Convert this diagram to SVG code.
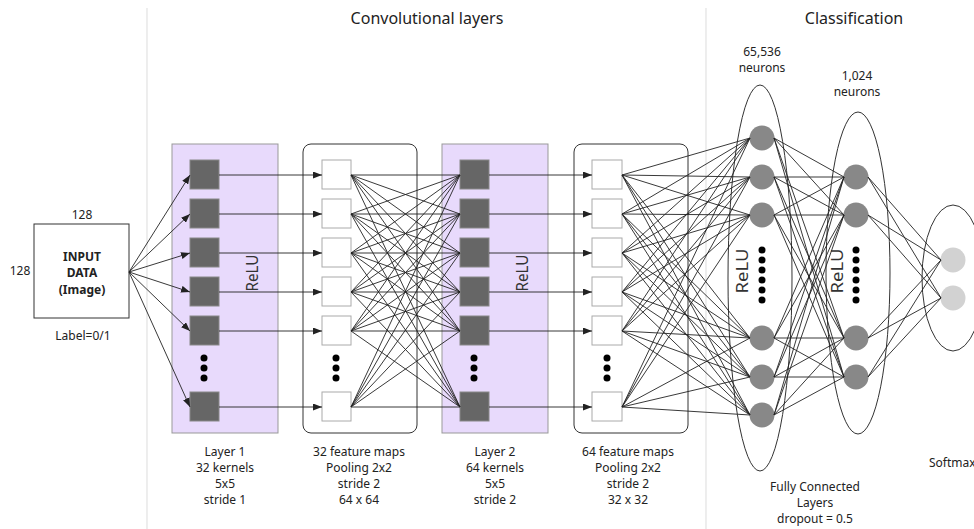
<svg xmlns="http://www.w3.org/2000/svg" width="974" height="529" viewBox="0 0 974 529">
<style>
text{font-family:"Noto Sans","DejaVu Sans",sans-serif;fill:#222;}
.lbl{font-size:12px;text-anchor:middle;}
.ttl{font-size:16px;text-anchor:middle;}
.relu{font-size:17px;text-anchor:middle;fill:#333;}
.div{stroke:#e2e2e2;stroke-width:1.2;fill:none;}
.layer{fill:#e8dafc;stroke:#999;stroke-width:1;}
.pool{fill:#fff;stroke:#333;stroke-width:1;}
.k{fill:#666;stroke:#888;stroke-width:1;}
.fm{fill:#fff;stroke:#aaa;stroke-width:1;}
.dot{fill:#000;}
.n{fill:#888;}
.sm{fill:#d2d2d2;}
.ell{fill:none;stroke:#333;stroke-width:1;}
.c{stroke:#222;stroke-width:0.9;fill:none;}
.ar{stroke:#222;stroke-width:0.9;fill:none;marker-end:url(#ah);}
</style>
<defs>
<marker id="ah" markerUnits="userSpaceOnUse" markerWidth="9" markerHeight="7" refX="9" refY="3.5" orient="auto">
<path d="M0,0 L9,3.5 L0,7 z" fill="#222"/>
</marker>
</defs>
<rect width="974" height="529" fill="#fff"/>
<line class="div" x1="147" y1="8" x2="147" y2="529"/>
<line class="div" x1="706" y1="8" x2="706" y2="529"/>
<text class="ttl" x="427" y="24">Convolutional layers</text>
<text class="ttl" x="854" y="24">Classification</text>

<g id="input">
<rect x="34" y="224" width="95" height="94" fill="#fff" stroke="#333"/>
<text class="lbl" x="82" y="219">128</text>
<text class="lbl" x="20" y="275">128</text>
<text class="lbl" x="82" y="261" font-weight="bold">INPUT</text>
<text class="lbl" x="82" y="277" font-weight="bold">DATA</text>
<text class="lbl" x="82" y="294" font-weight="bold">(Image)</text>
<text class="lbl" x="83" y="340">Label=0/1</text>
</g>

<g id="layer1">
<rect class="layer" x="172" y="144" width="106" height="289"/>
<rect class="k" x="190" y="160" width="29" height="29"/>
<rect class="k" x="190" y="199" width="29" height="29"/>
<rect class="k" x="190" y="238" width="29" height="29"/>
<rect class="k" x="190" y="277" width="29" height="29"/>
<rect class="k" x="190" y="316" width="29" height="29"/>
<rect class="k" x="190" y="392" width="29" height="29"/>
<circle class="dot" cx="204" cy="358" r="3.5"/>
<circle class="dot" cx="204" cy="368" r="3.5"/>
<circle class="dot" cx="204" cy="378" r="3.5"/>
<text class="relu" transform="translate(258,273) rotate(-90)" textLength="37" lengthAdjust="spacingAndGlyphs">ReLU</text>
<text class="lbl" x="225" y="456">Layer 1</text>
<text class="lbl" x="225" y="472">32 kernels</text>
<text class="lbl" x="225" y="488">5x5</text>
<text class="lbl" x="225" y="504">stride 1</text>
</g>

<g id="pool1">
<rect class="pool" x="303" y="144" width="114" height="289" rx="8"/>
<rect class="fm" x="322" y="160" width="29" height="29"/>
<rect class="fm" x="322" y="199" width="29" height="29"/>
<rect class="fm" x="322" y="238" width="29" height="29"/>
<rect class="fm" x="322" y="277" width="29" height="29"/>
<rect class="fm" x="322" y="316" width="29" height="29"/>
<rect class="fm" x="322" y="392" width="29" height="29"/>
<circle class="dot" cx="336" cy="358" r="3.5"/>
<circle class="dot" cx="336" cy="368" r="3.5"/>
<circle class="dot" cx="336" cy="378" r="3.5"/>
<text class="lbl" x="359" y="456">32 feature maps</text>
<text class="lbl" x="359" y="472">Pooling 2x2</text>
<text class="lbl" x="359" y="488">stride 2</text>
<text class="lbl" x="359" y="504">64 x 64</text>
</g>

<g id="layer2">
<rect class="layer" x="442" y="144" width="106" height="289"/>
<rect class="k" x="460" y="160" width="29" height="29"/>
<rect class="k" x="460" y="199" width="29" height="29"/>
<rect class="k" x="460" y="238" width="29" height="29"/>
<rect class="k" x="460" y="277" width="29" height="29"/>
<rect class="k" x="460" y="316" width="29" height="29"/>
<rect class="k" x="460" y="392" width="29" height="29"/>
<circle class="dot" cx="474" cy="358" r="3.5"/>
<circle class="dot" cx="474" cy="368" r="3.5"/>
<circle class="dot" cx="474" cy="378" r="3.5"/>
<text class="relu" transform="translate(528,273) rotate(-90)" textLength="37" lengthAdjust="spacingAndGlyphs">ReLU</text>
<text class="lbl" x="495" y="456">Layer 2</text>
<text class="lbl" x="495" y="472">64 kernels</text>
<text class="lbl" x="495" y="488">5x5</text>
<text class="lbl" x="495" y="504">stride 2</text>
</g>

<g id="pool2">
<rect class="pool" x="574" y="144" width="114" height="289" rx="8"/>
<rect class="fm" x="592" y="160" width="30" height="29"/>
<rect class="fm" x="592" y="199" width="30" height="29"/>
<rect class="fm" x="592" y="238" width="30" height="29"/>
<rect class="fm" x="592" y="277" width="30" height="29"/>
<rect class="fm" x="592" y="316" width="30" height="29"/>
<rect class="fm" x="592" y="392" width="30" height="29"/>
<circle class="dot" cx="607" cy="358" r="3.5"/>
<circle class="dot" cx="607" cy="368" r="3.5"/>
<circle class="dot" cx="607" cy="378" r="3.5"/>
<text class="lbl" x="628" y="456">64 feature maps</text>
<text class="lbl" x="628" y="472">Pooling 2x2</text>
<text class="lbl" x="628" y="488">stride 2</text>
<text class="lbl" x="628" y="504">32 x 32</text>
</g>

<g id="fc1">
<ellipse class="ell" cx="760" cy="278" rx="32" ry="193"/>
<circle class="n" cx="762" cy="138" r="12.5"/>
<circle class="n" cx="762" cy="177" r="12.5"/>
<circle class="n" cx="762" cy="215" r="12.5"/>
<circle class="n" cx="762" cy="338" r="12.5"/>
<circle class="n" cx="762" cy="377" r="12.5"/>
<circle class="n" cx="762" cy="415" r="12.5"/>
<circle class="dot" cx="762" cy="250" r="3.5"/>
<circle class="dot" cx="762" cy="260" r="3.5"/>
<circle class="dot" cx="762" cy="270" r="3.5"/>
<circle class="dot" cx="762" cy="280" r="3.5"/>
<circle class="dot" cx="762" cy="290" r="3.5"/>
<circle class="dot" cx="762" cy="300" r="3.5"/>
<text class="relu" transform="translate(748,271) rotate(-90)" textLength="45" lengthAdjust="spacingAndGlyphs">ReLU</text>
<text class="lbl" x="762" y="56">65,536</text>
<text class="lbl" x="762" y="72">neurons</text>
</g>

<g id="fc2">
<ellipse class="ell" cx="858" cy="273" rx="32" ry="161"/>
<circle class="n" cx="856" cy="177" r="12.5"/>
<circle class="n" cx="856" cy="215" r="12.5"/>
<circle class="n" cx="856" cy="338" r="12.5"/>
<circle class="n" cx="856" cy="377" r="12.5"/>
<circle class="dot" cx="856" cy="250" r="3.5"/>
<circle class="dot" cx="856" cy="260" r="3.5"/>
<circle class="dot" cx="856" cy="270" r="3.5"/>
<circle class="dot" cx="856" cy="280" r="3.5"/>
<circle class="dot" cx="856" cy="290" r="3.5"/>
<circle class="dot" cx="856" cy="300" r="3.5"/>
<text class="relu" transform="translate(843,271) rotate(-90)" textLength="45" lengthAdjust="spacingAndGlyphs">ReLU</text>
<text class="lbl" x="857" y="80">1,024</text>
<text class="lbl" x="857" y="96">neurons</text>
</g>

<g id="softmax">
<ellipse class="ell" cx="953" cy="278" rx="31" ry="73"/>
<circle class="sm" cx="953" cy="260" r="12.5"/>
<circle class="sm" cx="953" cy="298" r="12.5"/>
<text x="929" y="467" font-size="12">Softmax</text>
</g>

<g id="fc-label">
<text class="lbl" x="815" y="491">Fully Connected</text>
<text class="lbl" x="815" y="507">Layers</text>
<text class="lbl" x="815" y="523">dropout = 0.5</text>
</g>

<g id="connectors">
<path class="ar" d="M129 272L190 175"/>
<path class="ar" d="M129 272L190 214"/>
<path class="ar" d="M129 272L190 253"/>
<path class="ar" d="M129 272L190 292"/>
<path class="ar" d="M129 272L190 331"/>
<path class="ar" d="M129 272L190 407"/>
<path class="ar" d="M219 175H322"/>
<path class="ar" d="M219 214H322"/>
<path class="ar" d="M219 253H322"/>
<path class="ar" d="M219 292H322"/>
<path class="ar" d="M219 331H322"/>
<path class="ar" d="M219 407H322"/>
<path class="ar" d="M489 175H592"/>
<path class="ar" d="M489 214H592"/>
<path class="ar" d="M489 253H592"/>
<path class="ar" d="M489 292H592"/>
<path class="ar" d="M489 331H592"/>
<path class="ar" d="M489 407H592"/>
<path class="c" d="M351 175L460 175M351 175L460 214M351 175L460 253M351 175L460 292M351 175L460 331M351 175L460 407
M351 214L460 175M351 214L460 214M351 214L460 253M351 214L460 292M351 214L460 331M351 214L460 407
M351 253L460 175M351 253L460 214M351 253L460 253M351 253L460 292M351 253L460 331M351 253L460 407
M351 292L460 175M351 292L460 214M351 292L460 253M351 292L460 292M351 292L460 331M351 292L460 407
M351 331L460 175M351 331L460 214M351 331L460 253M351 331L460 292M351 331L460 331M351 331L460 407
M351 407L460 175M351 407L460 214M351 407L460 253M351 407L460 292M351 407L460 331M351 407L460 407"/>
<path class="c" d="M622 175L750 138M622 175L750 177M622 175L750 215M622 175L750 338M622 175L750 377M622 175L750 415
M622 214L750 138M622 214L750 177M622 214L750 215M622 214L750 338M622 214L750 377M622 214L750 415
M622 253L750 138M622 253L750 177M622 253L750 215M622 253L750 338M622 253L750 377M622 253L750 415
M622 292L750 138M622 292L750 177M622 292L750 215M622 292L750 338M622 292L750 377M622 292L750 415
M622 331L750 138M622 331L750 177M622 331L750 215M622 331L750 338M622 331L750 377M622 331L750 415
M622 407L750 138M622 407L750 177M622 407L750 215M622 407L750 338M622 407L750 377M622 407L750 415"/>
<path class="c" d="M774 138L844 177M774 138L844 215M774 138L844 338M774 138L844 377
M774 177L844 177M774 177L844 215M774 177L844 338M774 177L844 377
M774 215L844 177M774 215L844 215M774 215L844 338M774 215L844 377
M774 338L844 177M774 338L844 215M774 338L844 338M774 338L844 377
M774 377L844 177M774 377L844 215M774 377L844 338M774 377L844 377
M774 415L844 177M774 415L844 215M774 415L844 338M774 415L844 377"/>
<path class="c" d="M868 177L941 260M868 177L941 298M868 215L941 260M868 215L941 298M868 338L941 260M868 338L941 298M868 377L941 260M868 377L941 298"/>
</g>
</svg>
